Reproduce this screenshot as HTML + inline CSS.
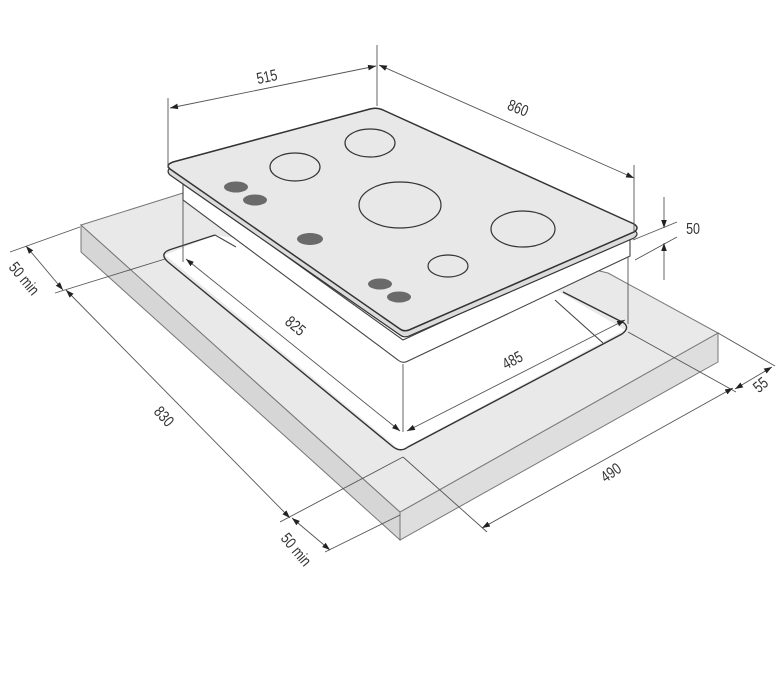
<!DOCTYPE html>
<html><head><meta charset="utf-8"><style>
html,body{margin:0;padding:0;background:#fff;}
svg{display:block;}
text{font-family:"Liberation Sans",sans-serif;font-size:16px;fill:#333;}
</style></head><body>
<svg width="777" height="678" viewBox="0 0 777 678" xmlns="http://www.w3.org/2000/svg">
<defs>
<marker id="a" viewBox="0 0 10 10" refX="10" refY="5" markerWidth="8" markerHeight="8" orient="auto-start-reverse" markerUnits="userSpaceOnUse"><path d="M0,1.5 L10,5 L0,8.5z" fill="#222"/></marker>
</defs>
<!-- slab -->
<polygon points="81,225 400,512 400,540 81,252" fill="#d6d6d6" stroke="#777" stroke-width="1"/>
<polygon points="400,512 718,333 718,362 400,540" fill="#dedede" stroke="#777" stroke-width="1"/>
<polygon points="81,225 183,193 300,200 608,273 718,333 400,512" fill="#e9e9e9" stroke="#777" stroke-width="1"/>
<!-- cutout -->
<polygon points="165,255 215,235 560,292 625,330 400,450" fill="#fff" stroke="none"/>
<path d="M215,235 L172,249 Q158,253 168,262 L392,446 Q400,453 408,447 L622,334 Q630,328 624,323 L563,292" fill="none" stroke="#333" stroke-width="1.4"/>
<path d="M215,235 L236,247 M555,300 L603,343" stroke="#444" stroke-width="1.1" fill="none"/>
<!-- hob body -->
<path d="M183,182 L183,200 L398,360 Q403,364 408,361 L630,256 L630,235 L403,340z" fill="#fff" stroke="#444" stroke-width="1.1"/>
<!-- glass -->
<path d="M170,175 L400,335 Q404,338 409,336 L634,238 Q640,234 634,230 L383,110 Q377,107 370,109 L173,166 Q165,170 170,175z" fill="#dcdcdc" stroke="#333" stroke-width="1.2"/>
<path d="M170,169 L400,329 Q404,332 409,330 L634,232 Q640,228 634,224 L383,110 Q377,107 370,109 L173,162 Q165,165 170,169z" fill="#e8e8e8" stroke="#333" stroke-width="1.5"/>
<!-- burners -->
<g fill="none" stroke="#333" stroke-width="1.2">
<ellipse cx="295" cy="167" rx="25" ry="14"/>
<ellipse cx="370" cy="143" rx="25" ry="14"/>
<ellipse cx="400" cy="205" rx="41" ry="23"/>
<ellipse cx="523" cy="229" rx="32" ry="18"/>
<ellipse cx="448" cy="266" rx="20" ry="11"/>
</g>
<g fill="#6a6a6a">
<ellipse cx="236" cy="187" rx="12" ry="5.5"/>
<ellipse cx="255" cy="200" rx="12" ry="5.5"/>
<ellipse cx="310" cy="239" rx="13" ry="6"/>
<ellipse cx="380" cy="284" rx="12" ry="5.5"/>
<ellipse cx="399" cy="297" rx="12" ry="5.5"/>
</g>
<!-- dimension lines -->
<g stroke="#555" stroke-width="0.9" fill="none">
<line x1="168" y1="98" x2="168" y2="168"/>
<line x1="377" y1="45" x2="377" y2="106"/>
<line x1="634" y1="165" x2="634" y2="232"/>
<line x1="170" y1="108" x2="376" y2="66" marker-start="url(#a)" marker-end="url(#a)"/>
<line x1="379" y1="65" x2="634" y2="178" marker-start="url(#a)" marker-end="url(#a)"/>
<line x1="633" y1="240" x2="677" y2="222"/>
<line x1="635" y1="260" x2="677" y2="237"/>
<line x1="664" y1="197" x2="664" y2="228" marker-end="url(#a)"/>
<line x1="664" y1="280" x2="664" y2="243" marker-end="url(#a)"/>
<line x1="183" y1="200" x2="183" y2="262"/>
<line x1="403" y1="364" x2="403" y2="432"/>
<line x1="628" y1="257" x2="628" y2="324"/>
<line x1="186" y1="259" x2="400" y2="431" marker-start="url(#a)" marker-end="url(#a)"/>
<line x1="407" y1="431" x2="625" y2="320" marker-start="url(#a)" marker-end="url(#a)"/>
<line x1="10" y1="252" x2="80" y2="227"/>
<line x1="55" y1="293" x2="165" y2="259"/>
<line x1="26" y1="246" x2="63" y2="290" marker-start="url(#a)" marker-end="url(#a)"/>
<line x1="66" y1="290" x2="290" y2="518" marker-start="url(#a)" marker-end="url(#a)"/>
<line x1="280" y1="522" x2="403" y2="457"/>
<line x1="325" y1="552" x2="400" y2="515"/>
<line x1="292" y1="518" x2="330" y2="550" marker-start="url(#a)" marker-end="url(#a)"/>
<line x1="403" y1="457" x2="487" y2="532"/>
<line x1="628" y1="332" x2="736" y2="392"/>
<line x1="718" y1="333" x2="775" y2="366"/>
<line x1="482" y1="528" x2="733" y2="388" marker-start="url(#a)" marker-end="url(#a)"/>
<line x1="735" y1="389" x2="772" y2="367" marker-start="url(#a)" marker-end="url(#a)"/>
</g>
<!-- labels -->
<text transform="translate(268,82) rotate(-12) scale(0.78,1)" text-anchor="middle">515</text>
<text transform="translate(516,113) rotate(22) scale(0.78,1)" text-anchor="middle">860</text>
<text transform="translate(693,234) scale(0.78,1)" text-anchor="middle">50</text>
<text transform="translate(292,330) rotate(40) scale(0.78,1)" text-anchor="middle">825</text>
<text transform="translate(515,365) rotate(-28) scale(0.78,1)" text-anchor="middle">485</text>
<text transform="translate(160,420) rotate(48) scale(0.78,1)" text-anchor="middle">830</text>
<text transform="translate(20,282) rotate(50) scale(0.78,1)" text-anchor="middle">50 min</text>
<text transform="translate(292,553) rotate(50) scale(0.78,1)" text-anchor="middle">50 min</text>
<text transform="translate(614,477) rotate(-35) scale(0.78,1)" text-anchor="middle">490</text>
<text transform="translate(764,389) rotate(-40) scale(0.78,1)" text-anchor="middle">55</text>
</svg>
</body></html>
